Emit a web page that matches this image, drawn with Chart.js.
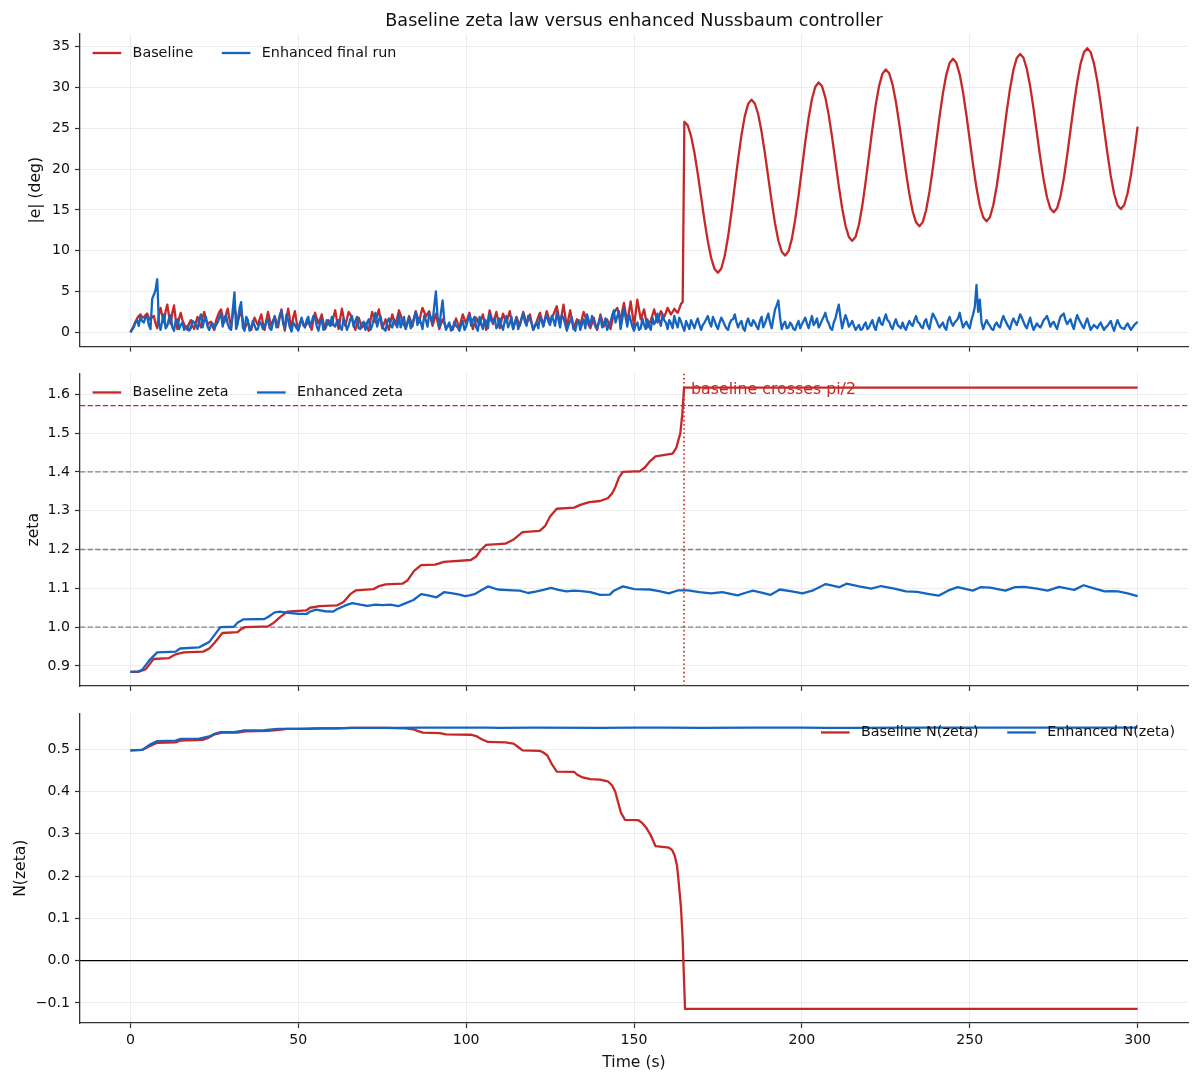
<!DOCTYPE html>
<html>
<head>
<meta charset="utf-8">
<script src="https://cdn.jsdelivr.net/npm/chart.js@4.4.1/dist/chart.umd.min.js"></script>
<style>
  html, body { margin: 0; padding: 0; background: #ffffff; }
  #wrap { position: relative; width: 1200px; height: 1083px; overflow: hidden; }
  #wrap canvas { position: absolute; left: 0; }
</style>
</head>
<body>
<div id="wrap">
  <canvas id="c1" width="1200" height="360" style="top:0px"></canvas>
  <canvas id="c2" width="1200" height="340" style="top:360px"></canvas>
  <canvas id="c3" width="1200" height="383" style="top:700px"></canvas>
</div>
<script>
// ---------------- DATA ----------------
const figTitle = 'Baseline zeta law versus enhanced Nussbaum controller';
const xTicks = [0, 50, 100, 150, 200, 250, 300];

// Panel 1: |e| (deg). Whole-second samples t = 0..300 and half-second samples t = 0.5, 1.5, ...
const tGrid = Array.from({ length: 301 }, (_, i) => i);
const errBaseline = [
  0.0,0.8,1.7,2.2,1.8,2.3,1.5,2.0,0.5,3.0,
  1.2,3.4,1.0,3.3,0.4,2.4,1.0,0.3,1.5,0.4,
  1.9,0.6,2.5,0.9,1.3,0.3,2.0,2.8,1.2,2.9,
  0.6,3.0,1.4,2.6,0.4,1.2,0.3,1.8,0.9,2.2,
  0.3,2.5,0.8,2.0,0.6,2.8,0.2,2.9,0.5,2.6,
  0.2,1.6,0.7,1.4,0.3,2.4,1.1,2.2,0.4,1.5,
  0.9,2.7,0.4,2.9,0.8,2.5,1.7,0.3,1.8,0.6,
  1.1,0.2,2.5,1.2,2.8,0.5,1.6,0.3,2.2,0.9,
  2.7,1.4,0.5,2.0,0.7,2.6,1.2,3.0,1.9,2.6,
  0.8,2.3,0.4,1.6,0.5,1.0,0.3,1.7,0.6,2.2,
  1.1,2.4,0.4,1.8,0.9,2.2,0.3,2.7,1.0,2.5,
  0.5,2.3,1.2,2.6,0.4,1.9,0.8,2.5,1.0,2.2,
  0.3,1.3,2.4,0.8,2.6,1.2,2.2,3.2,1.0,3.4,
  0.7,2.7,0.4,1.6,0.9,2.5,1.4,0.5,1.8,0.3,
  2.2,0.7,1.6,0.4,2.4,3.0,1.5,3.6,1.2,3.8,
  0.8,4.0,1.6,2.8,0.6,1.5,2.8,1.2,2.6,1.9,
  3.0,2.2,2.9,2.4,3.5,
  25.8,25.35,24.03,21.99,19.41,16.55,13.69,11.11,9.07,7.75,
  7.3,7.82,9.32,11.67,14.62,17.9,21.18,24.13,26.48,27.98,
  28.5,28.03,26.68,24.56,21.9,18.95,16.0,13.34,11.22,9.87,
  9.4,9.92,11.42,13.77,16.72,20.0,23.28,26.23,28.58,30.08,
  30.6,30.13,28.75,26.6,23.9,20.9,17.9,15.2,13.05,11.68,
  11.2,11.71,13.21,15.53,18.46,21.7,24.94,27.87,30.19,31.69,
  32.2,31.73,30.37,28.24,25.57,22.6,19.63,16.96,14.83,13.47,
  13.0,13.5,14.96,17.23,20.08,23.25,26.42,29.27,31.54,33.0,
  33.5,33.01,31.6,29.4,26.62,23.55,20.48,17.7,15.5,14.09,
  13.6,14.1,15.56,17.83,20.68,23.85,27.02,29.87,32.14,33.6,
  34.1,33.63,32.25,30.1,27.4,24.4,21.4,18.7,16.55,15.18,
  14.7,15.19,16.62,18.84,21.64,24.75,27.86,30.66,32.88,34.31,
  34.8,34.32,32.92,30.74,27.99,24.95,21.91,19.16,16.98,15.58,
  15.1,15.59,17.03,19.26,22.08,25.2
];
const errBaselineHalf = [
  0.4,1.3,2.0,1.9,2.1,1.8,1.9,1.1,2.2,2.0,
  2.6,2.0,2.4,1.6,1.7,1.5,0.6,1.1,0.8,1.2,
  1.1,1.8,1.6,1.2,0.7,1.4,2.5,1.9,2.2,1.7,
  2.1,2.2,2.0,1.5,0.9,0.7,1.2,1.3,1.6,1.1,
  1.5,1.6,1.4,1.2,1.9,1.4,1.7,1.6,1.8,1.3,
  0.9,1.1,1.0,0.8,1.5,1.7,1.6,1.2,0.9,1.2,
  1.9,1.5,1.7,1.8,1.6,2.2,0.9,1.0,1.2,0.8,
  0.6,1.4,1.9,2.0,1.6,1.0,0.9,1.3,1.5,1.8,
  2.1,0.9,1.2,1.4,1.7,1.9,2.2,2.5,2.3,1.6,
  1.5,1.3,1.0,1.1,0.7,0.6,1.0,1.1,1.4,1.6,
  1.8,1.4,1.1,1.3,1.6,1.2,1.5,1.9,1.7,1.5,
  1.4,1.7,1.9,1.5,1.1,1.3,1.6,1.8,1.6,1.2,
  0.8,1.9,1.6,1.7,1.9,1.7,2.7,2.1,2.2,2.0,
  1.7,1.5,1.0,1.2,1.7,1.9,0.9,1.1,1.0,1.2,
  1.4,1.1,1.0,1.4,2.7,2.2,2.6,2.4,2.5,2.3,
  2.4,2.8,2.2,1.7,1.0,2.1,2.0,1.9,2.2,2.4,
  2.6,2.5,2.6,2.9,3.7
];
const errEnhanced = [
  0.0,0.6,1.5,1.9,1.2,2.0,0.4,4.6,6.5,0.3,
  2.2,0.8,2.1,0.2,1.6,0.9,0.3,0.8,0.5,1.2,
  0.4,2.2,1.5,0.7,0.9,0.4,1.2,2.3,1.8,1.0,
  0.3,4.9,1.1,3.7,0.2,1.5,0.6,0.8,0.4,1.0,
  0.7,1.6,0.3,1.9,1.2,2.6,0.5,1.5,0.1,0.9,
  0.3,1.8,0.6,1.9,1.3,1.8,0.2,1.6,0.5,1.1,
  1.9,0.7,1.5,0.3,1.2,0.8,2.0,1.4,0.5,1.1,
  0.3,1.6,0.8,2.4,1.5,0.9,0.2,1.7,0.6,1.3,
  2.1,1.2,0.4,1.8,1.0,2.5,1.7,0.4,1.5,2.3,
  1.1,5.0,0.6,3.9,0.3,1.2,0.5,0.8,0.2,1.4,
  0.7,2.1,1.5,0.6,1.9,0.4,1.3,2.3,1.2,0.5,
  1.7,0.3,2.0,1.1,0.4,1.8,1.0,2.3,0.8,1.6,
  0.3,1.2,1.9,0.7,2.2,0.9,1.5,2.5,0.6,1.8,
  0.2,1.4,0.5,1.1,0.3,1.6,2.2,0.8,1.4,0.4,
  1.9,1.0,0.3,1.3,2.7,1.9,0.4,2.9,0.7,1.5,
  0.2,1.2,0.5,0.9,1.6,0.3,1.0,2.3,0.8,1.5,
  0.4,1.1,2.0,0.6,1.3,0.2,0.9,1.5,0.5,1.7,
  0.3,1.2,2.0,0.7,1.4,0.4,1.8,0.9,0.3,1.5,
  2.2,0.6,1.4,0.2,1.7,0.8,1.2,0.4,1.9,1.1,
  2.3,0.5,2.8,3.9,0.4,1.3,0.6,0.9,0.3,1.4,
  1.0,1.8,0.5,2.0,1.2,0.6,1.5,2.4,1.1,0.3,
  1.7,3.4,0.5,2.1,0.7,1.4,0.3,0.9,0.4,1.2,
  0.6,1.5,0.3,1.8,0.9,2.2,1.3,0.4,1.6,0.7,
  1.2,0.3,1.4,0.8,2.0,1.1,0.5,1.6,0.4,2.3,
  1.5,0.6,1.2,0.3,1.9,0.8,1.4,2.4,0.6,1.3,
  0.5,2.2,5.8,4.0,0.4,1.5,0.8,0.3,1.2,0.6,
  2.0,1.1,0.4,1.7,0.9,2.2,1.3,0.5,1.8,0.3,
  1.1,0.6,1.5,2.0,0.7,1.3,0.4,1.9,2.3,1.0,
  1.6,0.4,2.1,1.2,0.5,1.7,0.3,0.9,0.5,1.2,
  0.3,0.8,1.4,0.2,1.5,0.6,0.4,1.1,0.3,0.9,
  1.3
];
const errEnhancedHalf = [
  0.3,1.2,0.8,1.4,1.8,0.9,4.1,5.2,1.1,1.5,
  0.5,1.7,0.6,1.4,0.4,1.2,0.6,0.2,1.4,0.9,
  1.5,0.6,1.9,0.3,1.1,0.9,1.8,0.7,2.1,0.5,
  2.8,0.4,2.9,0.6,1.9,0.2,1.4,0.3,1.3,0.4,
  1.2,0.5,1.3,0.6,2.1,1.1,2.2,0.6,1.2,0.5,
  1.1,0.9,1.5,0.7,2.0,0.8,1.1,0.3,1.5,0.8,
  0.9,1.3,0.6,1.7,0.3,1.6,0.7,1.9,0.4,1.3,
  1.2,0.3,1.7,0.7,2.0,0.4,1.3,0.8,1.6,0.6,
  0.6,1.9,1.1,0.5,1.8,0.9,1.2,2.0,0.7,1.8,
  3.2,1.9,2.4,1.4,0.8,0.2,1.3,0.6,0.9,0.3,
  1.5,0.8,1.9,0.2,1.1,1.6,0.5,1.4,1.8,0.9,
  0.8,1.4,0.6,1.9,1.2,0.4,1.7,1.3,2.0,1.1,
  0.8,0.5,1.4,1.6,1.3,2.0,0.8,1.5,2.1,1.0,
  0.9,1.8,0.2,1.5,1.0,0.5,1.5,2.0,0.7,1.2,
  0.6,1.7,0.9,2.1,1.2,2.6,1.6,1.8,2.2,0.7,
  0.9,0.3,1.7,0.4,0.8,1.8,1.4,1.5,2.1,1.2,
  1.5,0.5,1.2,1.8,0.7,1.4,0.4,1.0,1.2,0.9,
  0.9,1.6,1.2,1.9,0.8,1.2,1.4,0.5,1.1,1.6,
  1.3,1.1,0.5,1.2,1.0,1.5,0.7,1.4,0.6,1.7,
  1.2,1.7,3.3,1.8,1.0,0.5,1.2,0.4,0.9,0.5,
  1.4,1.1,1.3,0.9,1.7,1.0,1.9,1.5,0.5,1.2,
  2.6,1.8,1.4,1.5,1.0,0.8,0.6,0.3,0.9,0.4,
  1.1,0.7,1.2,1.1,1.6,1.5,0.7,1.1,0.9,0.5,
  0.6,0.9,1.0,1.5,1.3,0.7,1.3,0.8,1.5,1.9,
  1.0,0.9,0.6,1.4,1.2,1.2,1.7,1.4,1.0,0.8,
  1.5,3.1,2.5,1.2,1.0,1.1,0.4,0.9,0.8,1.4,
  1.5,0.7,1.2,1.3,1.5,1.8,0.8,1.2,0.9,0.7,
  0.8,1.0,1.7,1.4,1.1,0.8,1.2,2.1,1.5,1.3,
  0.9,1.4,1.6,0.8,1.2,1.0,0.6,0.7,0.9,0.7,
  0.6,1.1,0.7,0.9,1.0,0.5,0.8,0.7,0.6,1.1
];
const err1Ticks = [0, 5, 10, 15, 20, 25, 30, 35];

// Panel 2: zeta
const zetaBaseT = [0,2.3,4.6,6.9,11.4,13.5,15.9,21.7,23.5,25.1,27.4,31.9,33.0,34.2,41.0,42.5,44.5,46.7,52.4,53.5,56.4,61.5,63.5,65.5,67.2,72.4,74.1,76.0,81.0,82.5,84.5,86.6,90.8,93.4,101.4,103.0,104.5,106.0,111.7,114.0,116.8,121.9,123.5,125.0,127.0,132.2,134.0,136.7,139.9,142.2,143.5,144.4,145.5,146.7,151.8,153.3,154.5,156.4,161.5,162.6,163.8,164.4,164.9,300];
const zetaBaseV = [0.885,0.885,0.892,0.918,0.920,0.930,0.935,0.937,0.945,0.960,0.985,0.987,0.995,1.000,1.002,1.010,1.025,1.040,1.043,1.050,1.054,1.056,1.065,1.085,1.095,1.098,1.106,1.110,1.112,1.120,1.145,1.160,1.161,1.168,1.173,1.182,1.200,1.212,1.215,1.225,1.245,1.248,1.260,1.285,1.305,1.308,1.315,1.322,1.325,1.332,1.345,1.360,1.385,1.400,1.402,1.412,1.425,1.440,1.447,1.462,1.500,1.550,1.617,1.617];
const zetaEnhT = [0,2.5,3.5,5.7,8.0,13.5,14.8,20.5,22.0,23.5,25.1,26.8,30.8,32.0,33.6,39.9,41.0,43.0,44.5,47.0,50.2,52.5,53.5,55.3,58.0,60.4,61.5,64.0,66.1,68.5,70.6,73.0,75.2,77.5,79.8,81.5,84.3,86.6,89.0,91.2,93.4,96.0,98.0,99.7,101.0,102.5,104.5,106.5,109.4,113.9,116.0,118.5,121.0,123.0,125.3,127.5,129.9,132.0,134.4,137.0,139.9,142.8,144.0,146.7,150.1,154.7,157.5,160.4,163.2,166.1,169.5,172.9,176.3,180.9,183.0,185.4,188.0,190.6,193.4,197.0,200.2,203.1,207.1,211.1,213.3,217.0,220.7,223.6,227.5,231.0,234.4,237.5,240.7,243.5,246.4,250.9,253.2,256.1,260.6,263.5,266.3,270.0,273.2,276.6,281.1,283.9,287.0,290.2,292.0,294.2,297.0,300.0];
const zetaEnhV = [0.885,0.886,0.890,0.915,0.935,0.937,0.945,0.948,0.955,0.962,0.980,1.000,1.001,1.012,1.020,1.021,1.026,1.038,1.040,1.037,1.034,1.034,1.040,1.045,1.041,1.040,1.046,1.056,1.062,1.058,1.055,1.058,1.057,1.058,1.054,1.060,1.070,1.085,1.081,1.077,1.090,1.087,1.084,1.080,1.082,1.085,1.095,1.105,1.097,1.095,1.094,1.088,1.092,1.096,1.101,1.096,1.092,1.094,1.093,1.090,1.083,1.084,1.094,1.105,1.098,1.097,1.093,1.087,1.095,1.095,1.090,1.087,1.090,1.082,1.088,1.094,1.089,1.083,1.097,1.092,1.087,1.094,1.111,1.103,1.112,1.105,1.099,1.106,1.099,1.092,1.091,1.086,1.081,1.094,1.103,1.094,1.103,1.102,1.094,1.103,1.104,1.099,1.094,1.104,1.096,1.108,1.100,1.092,1.093,1.092,1.087,1.080];
const zetaGuides = [1.0, 1.2, 1.4];
const piHalf = 1.5708;
const crossT = 164.9;
const annotText = 'baseline crosses pi/2';
const annotX = 167;
const annotY = 1.6;
const zetaTicks = [0.9, 1.0, 1.1, 1.2, 1.3, 1.4, 1.5, 1.6];

// Panel 3: N(zeta)
const nBaseT = [0,3.5,5.7,8.0,13.5,14.8,21.5,23.0,25.1,27.4,31.9,34.2,41.0,43.5,46.7,53.0,57.0,62.0,66.0,72.0,76.0,82.0,84.3,85.5,87.1,92.2,94.0,101.4,103.0,104.5,106.5,111.7,114.1,115.5,116.8,121.9,123.0,124.2,125.5,127.0,132.2,133.0,134.7,137.0,139.9,142.2,143.5,144.4,146.1,147.3,151.3,152.5,153.6,155.0,156.4,160.4,161.3,162.1,162.8,163.2,164.0,164.5,164.7,165.2,300];
const nBaseV = [0.497,0.498,0.507,0.515,0.516,0.520,0.522,0.526,0.535,0.539,0.539,0.542,0.543,0.545,0.548,0.548,0.549,0.549,0.550,0.550,0.550,0.549,0.547,0.543,0.539,0.538,0.535,0.534,0.531,0.524,0.517,0.516,0.513,0.505,0.497,0.496,0.492,0.485,0.465,0.447,0.446,0.440,0.433,0.429,0.428,0.424,0.414,0.400,0.350,0.333,0.332,0.325,0.315,0.296,0.271,0.267,0.262,0.249,0.225,0.195,0.125,0.050,0.000,-0.114,-0.114];
const nEnhT = [0,3.5,5.7,8.0,13.5,14.8,20.5,23.5,25.1,26.8,30.8,33.6,39.9,43.9,50.0,55.0,60.0,66.0,80.0,86.6,100.0,106.5,110.0,120.0,140.0,150.0,160.0,170.0,185.0,200.0,207.0,215.0,230.0,250.0,270.0,290.0,300.0];
const nEnhV = [0.497,0.498,0.510,0.519,0.520,0.524,0.525,0.530,0.536,0.540,0.540,0.544,0.545,0.548,0.548,0.549,0.549,0.550,0.550,0.551,0.551,0.551,0.550,0.551,0.550,0.551,0.551,0.550,0.551,0.551,0.550,0.550,0.551,0.551,0.551,0.551,0.551];
const nTicks = [-0.1, 0.0, 0.1, 0.2, 0.3, 0.4, 0.5];
const nZero = 0;

// ---------------- STYLE ----------------
const RED = '#c62828';
const BLUE = '#1565c0';
const GUIDE_GRAY = '#808080';
const GRID = '#ececec';
const AXIS = '#333333';
const TEXT = '#111111';
const FONT = "'DejaVu Sans', 'Liberation Sans', sans-serif";
const FS_TICK = 14.1, FS_LEG = 14.3, FS_LABEL = 15.6, FS_ANNOT = 15.8, FS_TITLE = 17.6;
const LW = 2.3;
const X_MIN = -15, X_MAX = 315;
const Y1 = [-1.74, 36.54];
const Y2 = [0.8484, 1.6536];
const Y3 = [-0.1473, 0.5843];

Chart.defaults.font.family = FONT;
Chart.defaults.font.size = FS_TICK;
Chart.defaults.color = TEXT;
Chart.defaults.animation = false;

function pts(xs, ys) { return xs.map((x, i) => ({ x: x, y: ys[i] })); }
function mergeHalf(xs, whole, half) {
  const out = [];
  xs.forEach((x, i) => {
    out.push({ x: x, y: whole[i] });
    if (i < half.length) out.push({ x: x + 0.5, y: half[i] });
  });
  return out;
}
function hline(y) { return [{ x: X_MIN, y: y }, { x: X_MAX, y: y }]; }

function seriesDs(label, data, color, order) {
  return { label, data, borderColor: color, backgroundColor: color,
    borderWidth: LW, pointRadius: 0, tension: 0, fill: false, order, inLegend: true,
    borderJoinStyle: 'round', borderCapStyle: 'butt' };
}
function guideDs(data, color, dash, width) {
  return { label: '', data, borderColor: color, borderWidth: width, borderDash: dash,
    pointRadius: 0, tension: 0, fill: false, order: 5, inLegend: false };
}

function xScale(showLabels, height, withTitle) {
  return {
    type: 'linear', min: X_MIN, max: X_MAX,
    afterBuildTicks: s => { s.ticks = xTicks.map(v => ({ value: v })); },
    afterFit: s => { s.height = height; },
    ticks: { display: showLabels, padding: 4, maxRotation: 0, autoSkip: false,
      callback: v => String(v), color: TEXT, font: { size: FS_TICK } },
    grid: { color: GRID, lineWidth: 1, tickLength: 5, tickColor: AXIS, tickWidth: 1.2 },
    border: { display: true, color: AXIS, width: 1.3 },
    title: withTitle
      ? { display: true, text: 'Time (s)', color: TEXT, font: { size: FS_LABEL }, padding: { top: 0, bottom: 10.6 } }
      : { display: false }
  };
}
function yScale(range, ticks, fmt, title, titlePad) {
  return {
    type: 'linear', min: range[0], max: range[1],
    afterBuildTicks: s => { s.ticks = ticks.map(v => ({ value: v })); },
    afterFit: s => { s.width = 80; },
    ticks: { padding: 5, autoSkip: false, callback: fmt, color: TEXT, font: { size: FS_TICK } },
    grid: { color: GRID, lineWidth: 1, tickLength: 5, tickColor: AXIS, tickWidth: 1.2 },
    border: { display: true, color: AXIS, width: 1.3 },
    title: { display: true, text: title, color: TEXT, font: { size: FS_LABEL }, padding: { top: titlePad, bottom: 0 } }
  };
}
const fmtInt = v => String(Math.round(v));
const fmt1 = v => { const s = Math.abs(v) < 1e-9 ? '0.0' : v.toFixed(1); return s.replace('-', '\u2212'); };

function legendPlugin(corner) {
  return {
    id: 'mplLegend',
    afterDatasetsDraw(chart) {
      const { ctx, chartArea } = chart;
      const items = chart.data.datasets.filter(d => d.inLegend);
      ctx.save();
      ctx.font = FS_LEG + 'px ' + FONT;
      const H = 28.6, P = 11.4, S = 28.6;
      const widths = items.map(d => ctx.measureText(d.label).width);
      const total = widths.reduce((a, w) => a + H + P + w, 0) + S * (items.length - 1);
      let x = corner === 'left' ? chartArea.left + 12.6 : chartArea.right - 13 - total;
      const y = chartArea.top + 19;
      items.forEach((d, i) => {
        ctx.strokeStyle = d.borderColor; ctx.lineWidth = LW; ctx.setLineDash([]);
        ctx.beginPath(); ctx.moveTo(x, y); ctx.lineTo(x + H, y); ctx.stroke();
        ctx.fillStyle = TEXT; ctx.textAlign = 'left'; ctx.textBaseline = 'middle';
        ctx.fillText(d.label, x + H + P, y);
        x += H + P + widths[i] + S;
      });
      ctx.restore();
    }
  };
}
const titlePlugin = {
  id: 'figTitle',
  afterDraw(chart) {
    const { ctx, chartArea } = chart;
    ctx.save();
    ctx.font = FS_TITLE + 'px ' + FONT;
    ctx.fillStyle = TEXT; ctx.textAlign = 'center'; ctx.textBaseline = 'alphabetic';
    ctx.fillText(figTitle, (chartArea.left + chartArea.right) / 2, 26);
    ctx.restore();
  }
};
const annotPlugin = {
  id: 'annot',
  afterDatasetsDraw(chart) {
    const { ctx } = chart;
    const xs = chart.scales.x, ys = chart.scales.y;
    ctx.save();
    ctx.font = FS_ANNOT + 'px ' + FONT;
    ctx.fillStyle = RED; ctx.textAlign = 'left'; ctx.textBaseline = 'alphabetic';
    ctx.fillText(annotText, xs.getPixelForValue(annotX), ys.getPixelForValue(annotY));
    ctx.restore();
  }
};

const commonPlugins = { legend: { display: false }, tooltip: { enabled: false }, title: { display: false } };

// ---------------- PANEL 1 ----------------
new Chart(document.getElementById('c1'), {
  type: 'line',
  data: { datasets: [
    seriesDs('Baseline', mergeHalf(tGrid, errBaseline, errBaselineHalf), RED, 2),
    seriesDs('Enhanced final run', mergeHalf(tGrid, errEnhanced, errEnhancedHalf), BLUE, 1)
  ] },
  options: {
    responsive: false, animation: false,
    layout: { padding: { top: 34, right: 12, bottom: 0, left: 0 } },
    plugins: commonPlugins,
    scales: { x: xScale(false, 12, false), y: yScale(Y1, err1Ticks, fmtInt, '|e| (deg)', 27.0) }
  },
  plugins: [legendPlugin('left'), titlePlugin]
});

// ---------------- PANEL 2 ----------------
const guides2 = zetaGuides.map(g => guideDs(hline(g), GUIDE_GRAY, [5.3, 2.3], 1.4));
new Chart(document.getElementById('c2'), {
  type: 'line',
  data: { datasets: [
    seriesDs('Baseline zeta', pts(zetaBaseT, zetaBaseV), RED, 2),
    seriesDs('Enhanced zeta', pts(zetaEnhT, zetaEnhV), BLUE, 1),
    ...guides2,
    guideDs(hline(piHalf), RED, [5.3, 2.3], 1.3),
    guideDs([{ x: crossT, y: Y2[0] }, { x: crossT, y: Y2[1] }], RED, [1.6, 2.6], 1.6)
  ] },
  options: {
    responsive: false, animation: false,
    layout: { padding: { top: 12, right: 12, bottom: 0, left: 0 } },
    plugins: commonPlugins,
    scales: { x: xScale(false, 14, false), y: yScale(Y2, zetaTicks, fmt1, 'zeta', 24.3) }
  },
  plugins: [legendPlugin('left'), annotPlugin]
});

// ---------------- PANEL 3 ----------------
new Chart(document.getElementById('c3'), {
  type: 'line',
  data: { datasets: [
    seriesDs('Baseline N(zeta)', pts(nBaseT, nBaseV), RED, 2),
    seriesDs('Enhanced N(zeta)', pts(nEnhT, nEnhV), BLUE, 1),
    guideDs(hline(nZero), '#000000', [], 1.2)
  ] },
  options: {
    responsive: false, animation: false,
    layout: { padding: { top: 9, right: 12, bottom: 0, left: 0 } },
    plugins: commonPlugins,
    scales: { x: xScale(true, 60, true), y: yScale(Y3, nTicks, fmt1, 'N(zeta)', 11.7) }
  },
  plugins: [legendPlugin('right')]
});
</script>
</body>
</html>
